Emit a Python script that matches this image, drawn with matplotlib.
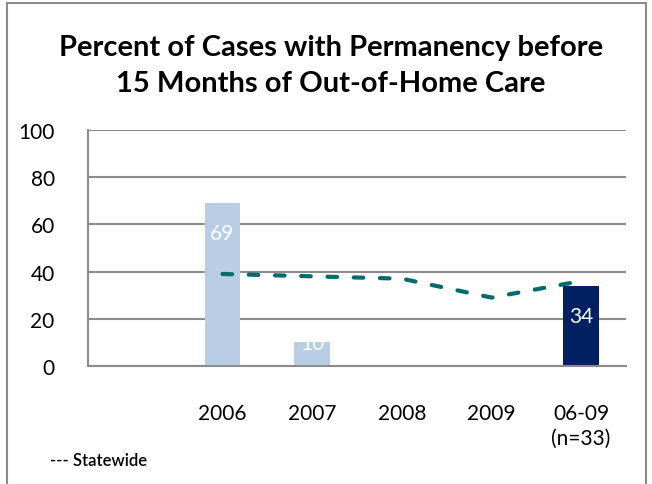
import matplotlib
matplotlib.use("Agg")
import matplotlib.pyplot as plt
from matplotlib.patches import Rectangle
import numpy as np

categories = ["", "2006", "2007", "2008", "2009", "06-09\n(n=33)"]
county_values = [None, 69, 10, None, None, 34]
statewide_values = [None, 39, 38, 37, 29, 36]
yticks = [0, 20, 40, 60, 80, 100]
title = "Percent of Cases with Permanency before\n15 Months of Out-of-Home Care"

plt.rcParams['font.family'] = ['Lato', 'DejaVu Sans']

fig = plt.figure(figsize=(6.52, 4.85), dpi=100)
ax = fig.add_axes([88/652, 1-367/485, (626-88)/652, (367-131)/485])

x = np.arange(len(categories))
bar_colors = ["#B9CDE5"] * (len(categories) - 1) + ["#002060"]
for i, v in enumerate(county_values):
    if v is None:
        continue
    ax.bar(x[i], v, width=0.4, color=bar_colors[i], zorder=2)
    top = v - 8.5 if v > 20 else v + 4
    ax.text(x[i], top, f"{v}", ha="center", va="top", color="white",
            fontsize=15, zorder=3)

sx = [x[i] for i, v in enumerate(statewide_values) if v is not None]
sy = [v for v in statewide_values if v is not None]
ax.plot(sx, sy, color="#006B6B", lw=3, dashes=(2.3, 4.0), zorder=4,
        dash_capstyle="round")

ax.set_xlim(-0.5, len(categories) - 0.5)
ax.set_ylim(0, 100)
ax.set_yticks(yticks)
ax.set_xticks(x)
ax.set_xticklabels(categories, fontsize=15, linespacing=1.3)
ax.tick_params(axis="y", labelsize=15, length=0, pad=24)
ax.tick_params(axis="x", length=0, pad=27)
ax.grid(axis="y", color="#8C8C8C", lw=1.5, zorder=1)
for s in ["top", "right"]:
    ax.spines[s].set_visible(False)
for s in ["left", "bottom"]:
    ax.spines[s].set_color("#8C8C8C")
    ax.spines[s].set_linewidth(1.5)

fig.text(331/652, 1-66/485, title, ha="center", va="center",
         fontsize=21, fontweight="bold", linespacing=1.45)

fig.text(50/652, 1-461/485, "--- Statewide", ha="left", va="center",
         fontsize=12, fontweight="semibold")

fig.patches.append(Rectangle((7/652, -0.05), (646-7)/652, 1.05 - 4/485,
                             transform=fig.transFigure, fill=False,
                             edgecolor="#8C8C8C", lw=1.5))

fig.savefig("out.png", dpi=100)
